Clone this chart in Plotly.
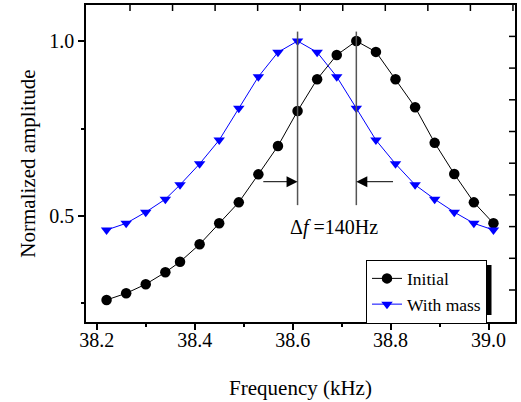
import plotly.graph_objects as go

# ---- data ----
freq_khz = [38.22, 38.26, 38.30, 38.34, 38.37, 38.41, 38.45, 38.49, 38.53, 38.57,
            38.61, 38.65, 38.69, 38.73, 38.77, 38.81, 38.85, 38.89, 38.93, 38.97, 39.01]
initial = [0.260, 0.279, 0.305, 0.339, 0.369, 0.419, 0.479, 0.539, 0.619, 0.700,
           0.800, 0.891, 0.960, 1.000, 0.969, 0.891, 0.811, 0.709, 0.620, 0.539, 0.479]
with_mass = [0.460, 0.479, 0.511, 0.548, 0.589, 0.649, 0.717, 0.808, 0.898, 0.968,
             1.000, 0.968, 0.898, 0.808, 0.717, 0.649, 0.589, 0.548, 0.511, 0.479, 0.460]
series_names = ["Initial", "With mass"]
delta_label = "Δ<i>f</i> =140Hz"

FONT = "Liberation Serif"

peak_init = freq_khz[initial.index(max(initial))]
peak_mass = freq_khz[with_mass.index(max(with_mass))]

fig = go.Figure()
fig.add_trace(go.Scatter(x=freq_khz, y=initial, mode="lines+markers", name=series_names[0],
                         line=dict(color="black", width=1),
                         marker=dict(symbol="circle", size=10.5, color="black")))
fig.add_trace(go.Scatter(x=freq_khz, y=with_mass, mode="lines+markers", name=series_names[1],
                         line=dict(color="#0000ff", width=1),
                         marker=dict(symbol="triangle-down", size=10, color="#0000ff")))

# vertical markers at the two peaks
for p in (peak_mass, peak_init):
    fig.add_shape(type="line", xref="x", yref="y", x0=p, x1=p, y0=0.531, y1=1.027,
                  line=dict(color="#555555", width=1.5))

# arrows pointing at the peaks
fig.add_annotation(x=peak_mass, y=0.598, ax=peak_mass - 0.073, ay=0.598, xref="x", yref="y",
                   axref="x", ayref="y", showarrow=True, arrowhead=2, arrowsize=2.2,
                   arrowwidth=1, arrowcolor="black", standoff=0, text="")
fig.add_annotation(x=peak_init, y=0.598, ax=peak_init + 0.078, ay=0.598, xref="x", yref="y",
                   axref="x", ayref="y", showarrow=True, arrowhead=2, arrowsize=2.2,
                   arrowwidth=1, arrowcolor="black", standoff=0, text="")
fig.add_annotation(x=(peak_mass + peak_init) / 2 + 0.015, y=0.467, xref="x", yref="y",
                   text=delta_label, showarrow=False, font=dict(family=FONT, size=20, color="black"))

pw, ph = 429.0, 317.0   # plot-area size in px

# independent inward tick marks on the top and right frame edges
for k in range(10):
    xf = (44 + k * 42.55) / pw
    fig.add_shape(type="line", xref="paper", yref="paper", x0=xf, x1=xf, y0=1, y1=1 - 6 / ph,
                  line=dict(color="black", width=1.5))
for k in range(9):
    yf = (32 + k * 31.7) / ph
    fig.add_shape(type="line", xref="paper", yref="paper", x0=1, x1=1 - 6 / pw, y0=yf, y1=yf,
                  line=dict(color="black", width=1.5))

# legend drop shadow
fig.add_shape(type="rect", xref="paper", yref="paper",
              x0=(371 - 86) / pw, x1=(491.5 - 86) / pw,
              y0=(322 - 315) / ph, y1=(322 - 265) / ph,
              fillcolor="black", line=dict(width=0), layer="above")

axis_common = dict(showgrid=False, zeroline=False, showline=True, linecolor="black",
                   linewidth=1.5, mirror=True, ticks="outside", ticklen=6, tickwidth=1.5,
                   tickcolor="black", tickformat=".1f", automargin=False,
                   tickfont=dict(family=FONT, size=20, color="black"))

fig.update_layout(
    width=521, height=402,
    margin=dict(l=86, r=6, t=5, b=80),
    paper_bgcolor="white", plot_bgcolor="white",
    font=dict(family=FONT, color="black"),
    xaxis=dict(range=[38.178, 39.054], tick0=38.2, dtick=0.2, ticklabelstandoff=-7,
               minor=dict(dtick=0.1, ticks="outside", ticklen=3.5, tickwidth=1.5, tickcolor="black"),
               title=dict(text="Frequency (kHz)", font=dict(family=FONT, size=21), standoff=31),
               **axis_common),
    yaxis=dict(range=[0.197, 1.103], tick0=0.5, dtick=0.5,
               minor=dict(dtick=0.25, ticks="outside", ticklen=3.5, tickwidth=1.5, tickcolor="black"),
               title=dict(text="Normalized amplitude", font=dict(family=FONT, size=21), standoff=8),
               **axis_common),
    legend=dict(x=(366 - 86) / pw, y=(322 - 259.5) / ph, xanchor="left", yanchor="top",
                bgcolor="white", bordercolor="black", borderwidth=1,
                font=dict(family=FONT, size=17.5, color="black"), tracegroupgap=0,
                itemwidth=30),
    showlegend=True,
)

fig.write_html("out.html", post_script="document.body.style.margin='0';",
               config={"displayModeBar": False})
